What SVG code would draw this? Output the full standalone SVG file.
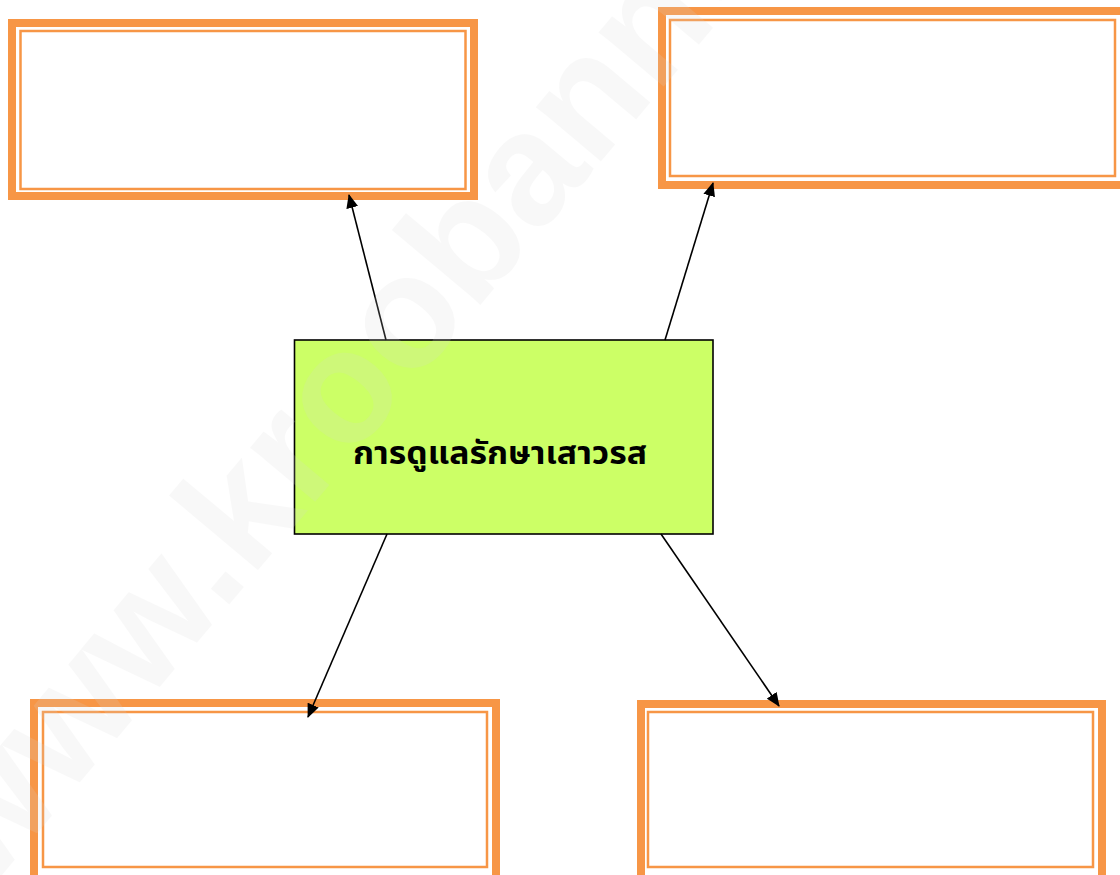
<svg xmlns="http://www.w3.org/2000/svg" width="1120" height="875" viewBox="0 0 1120 875">
  <style>
    .thick { fill: #ffffff; stroke: #F79646; stroke-width: 8; }
    .thin { fill: none; stroke: #F79646; stroke-width: 2.5; }
    .conn { stroke: #000000; stroke-width: 1.6; fill: none; marker-end: url(#arrow); }
    .center { fill: #CCFF66; stroke: #000000; stroke-width: 1.6; }
    .label { font-family: "Noto Sans Thai", "Noto Sans", "DejaVu Sans", sans-serif; font-weight: bold; font-size: 32px; fill: #000000; }
    .wm { font-family: "Liberation Sans", Arial, sans-serif; font-weight: bold; font-size: 160px; fill: #d8d8d8; opacity: 0.17; }
  </style>
  <defs>
    <marker id="arrow" markerUnits="userSpaceOnUse" markerWidth="14" markerHeight="12" refX="13" refY="6" orient="auto">
      <path d="M0,0 L14,6 L0,12 Z" fill="#000000"/>
    </marker>
  </defs>
  <rect width="1120" height="875" fill="#ffffff"/>

  <g id="box-top-left">
    <rect class="thick" x="12" y="23" width="462" height="173"/>
    <rect class="thin" x="20.5" y="31" width="445" height="158"/>
  </g>
  <g id="box-top-right">
    <rect class="thick" x="662" y="11" width="466" height="174"/>
    <rect class="thin" x="670" y="20" width="445" height="156"/>
  </g>
  <g id="box-bottom-left">
    <rect class="thick" x="34" y="703" width="462" height="180"/>
    <rect class="thin" x="43" y="712" width="444" height="155"/>
  </g>
  <g id="box-bottom-right">
    <rect class="thick" x="641" y="704" width="461" height="180"/>
    <rect class="thin" x="648" y="712" width="445" height="155"/>
  </g>

  <g id="center-node">
    <rect class="center" x="294.5" y="340" width="418.5" height="194"/>
    <text class="label" x="500" y="464" text-anchor="middle" textLength="294" lengthAdjust="spacingAndGlyphs">การดูแลรักษาเสาวรส</text>
  </g>

  <g id="connectors">
    <line class="conn" x1="386" y1="340" x2="349" y2="195"/>
    <line class="conn" x1="665" y1="340" x2="713" y2="183"/>
    <line class="conn" x1="387" y1="534" x2="308" y2="717"/>
    <line class="conn" x1="661" y1="534" x2="779" y2="706"/>
  </g>

  <text class="wm" x="-14" y="894" transform="rotate(-50 -14 894)">www.kroobannok.com</text>
</svg>
